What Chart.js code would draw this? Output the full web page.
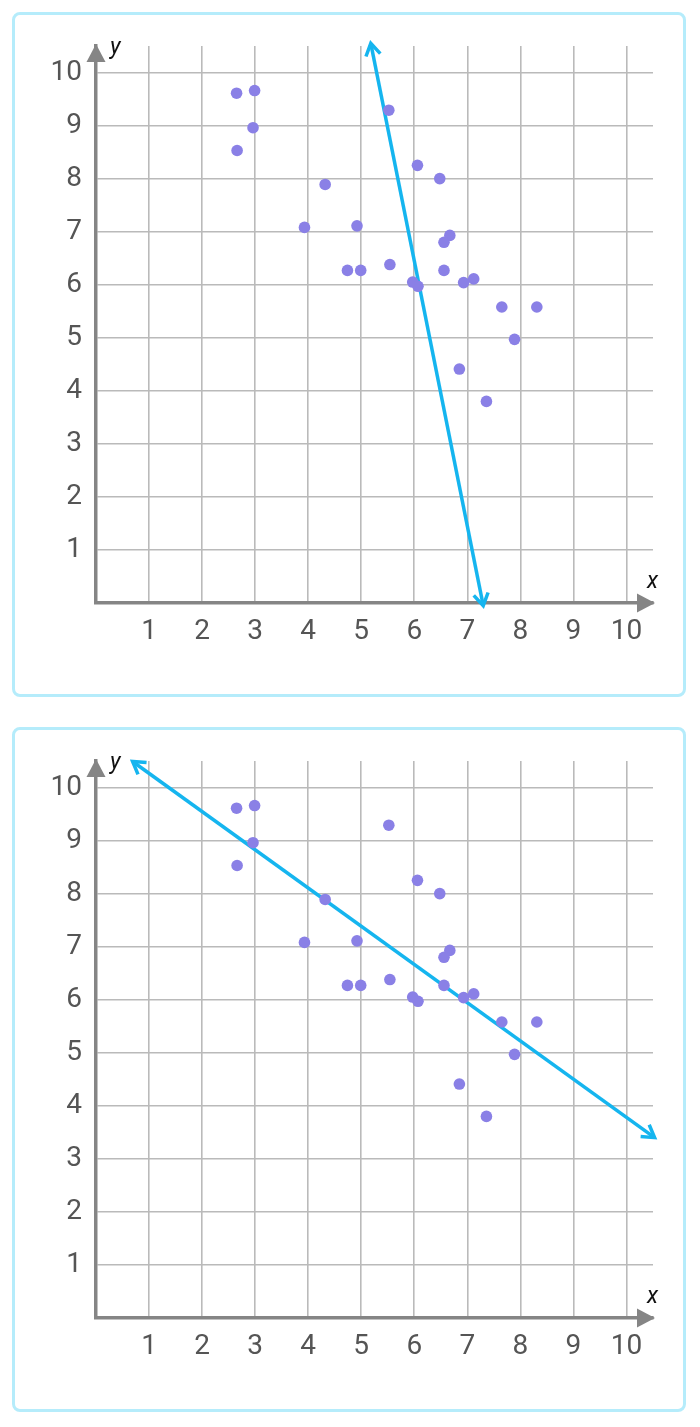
<!DOCTYPE html>
<html>
<head>
<meta charset="utf-8">
<script src="https://cdn.jsdelivr.net/npm/chart.js@4"></script>
<style>
  html, body { margin:0; padding:0; background:#fff; }
  body { width:700px; height:1427px; position:relative; overflow:hidden; }
  .panel { position:absolute; left:12px; width:674px; height:685px; box-sizing:border-box;
           border:3px solid #b5ecfb; border-radius:8px; background:#fff; }
  canvas { position:absolute; left:0; }
</style>
</head>
<body>
<div class="panel" style="top:12px"></div>
<div class="panel" style="top:727px"></div>
<canvas id="c1" width="700" height="712" style="top:0px"></canvas>
<canvas id="c2" width="700" height="712" style="top:715px"></canvas>
<script>
// ---- data ----
const pointX = [2.65, 2.99, 2.96, 2.66, 4.32, 3.93, 4.74, 5.52, 6.06, 6.48, 4.92, 6.67, 6.56,
                4.99, 5.54, 6.56, 5.97, 6.07, 6.93, 7.12, 7.65, 8.31, 7.89, 6.85, 7.36];
const pointY = [9.61, 9.66, 8.96, 8.53, 7.89, 7.08, 6.27, 9.29, 8.25, 8.00, 7.11, 6.93, 6.80,
                6.27, 6.38, 6.27, 6.05, 5.97, 6.04, 6.11, 5.58, 5.58, 4.97, 4.41, 3.80];
const line1X = [5.18, 7.30];
const line1Y = [10.55, -0.05];
const line2X = [0.69, 10.53];
const line2Y = [10.49, 3.40];
const xTicks = [1, 2, 3, 4, 5, 6, 7, 8, 9, 10];
const yTicks = [1, 2, 3, 4, 5, 6, 7, 8, 9, 10];
const axisMax = 10.5;

const POINT_COLOR = '#8a80e6';
const LINE_COLOR = '#15b5ef';
const GRID_COLOR = '#bababa';
const AXIS_COLOR = '#858585';
const TICK_COLOR = '#555555';

const decorPlugin = {
  id: 'decor',
  afterDatasetsDraw(chart) {
    const ctx = chart.ctx;
    const meta = chart.getDatasetMeta(1);
    const pts = meta.data;
    if (pts.length < 2) return;
    const drawHead = (tip, other) => {
      const ang = Math.atan2(tip.y - other.y, tip.x - other.x);
      const len = 14, spread = 0.55;
      ctx.beginPath();
      ctx.moveTo(tip.x - len * Math.cos(ang - spread), tip.y - len * Math.sin(ang - spread));
      ctx.lineTo(tip.x, tip.y);
      ctx.lineTo(tip.x - len * Math.cos(ang + spread), tip.y - len * Math.sin(ang + spread));
      ctx.stroke();
    };
    ctx.save();
    ctx.strokeStyle = LINE_COLOR;
    ctx.lineWidth = 3.5;
    ctx.lineJoin = 'miter';
    ctx.lineCap = 'butt';
    drawHead(pts[0], pts[1]);
    drawHead(pts[pts.length - 1], pts[pts.length - 2]);
    ctx.restore();
  },
  afterDraw(chart) {
    const ctx = chart.ctx;
    const area = chart.chartArea;
    const xs = chart.scales.x, ys = chart.scales.y;
    const x0 = xs.getPixelForValue(0);
    const y0 = ys.getPixelForValue(0);
    ctx.save();
    ctx.fillStyle = AXIS_COLOR;
    // y axis arrow
    const tipY = area.top - 2;
    ctx.beginPath();
    ctx.moveTo(x0, tipY);
    ctx.lineTo(x0 - 9.5, tipY + 18);
    ctx.lineTo(x0 + 9.5, tipY + 18);
    ctx.closePath();
    ctx.fill();
    // x axis arrow
    const tipX = area.right + 2;
    ctx.beginPath();
    ctx.moveTo(tipX, y0);
    ctx.lineTo(tipX - 18, y0 - 9.5);
    ctx.lineTo(tipX - 18, y0 + 9.5);
    ctx.closePath();
    ctx.fill();
    // axis names
    ctx.fillStyle = '#111111';
    ctx.font = 'italic 23px Roboto';
    ctx.textBaseline = 'alphabetic';
    ctx.textAlign = 'left';
    ctx.fillText('y', x0 + 14, area.top + 8);
    ctx.fillText('x', area.right - 6, y0 - 15);
    ctx.restore();
  }
};

function makeChart(id, lx, ly) {
  const pts = pointX.map((v, i) => ({ x: v, y: pointY[i] }));
  const linePts = lx.map((v, i) => ({ x: v, y: ly[i] }));
  return new Chart(document.getElementById(id), {
    type: 'scatter',
    data: {
      datasets: [
        { type: 'scatter', data: pts, backgroundColor: POINT_COLOR, borderWidth: 0,
          pointRadius: 5.8, pointHoverRadius: 5.8, order: 0, clip: false },
        { type: 'line', data: linePts, borderColor: LINE_COLOR, borderWidth: 3.5,
          pointRadius: 0, showLine: true, fill: false, order: 1, clip: false, tension: 0 }
      ]
    },
    options: {
      responsive: false,
      animation: false,
      events: [],
      layout: { padding: { left: 0, top: 46, right: 47, bottom: 49 } },
      plugins: { legend: { display: false }, tooltip: { enabled: false } },
      scales: {
        x: {
          type: 'linear', position: 'bottom', min: 0, max: axisMax,
          afterBuildTicks: (s) => { s.ticks = xTicks.map(v => ({ value: v })); },
          afterFit: (s) => { s.height = 60; },
          grid: { color: GRID_COLOR, lineWidth: 1.6, drawTicks: false },
          border: { display: true, color: AXIS_COLOR, width: 3.5 },
          ticks: { autoSkip: false, maxRotation: 0, padding: 12, color: TICK_COLOR,
                   font: { family: 'Roboto', size: 28 } }
        },
        y: {
          type: 'linear', position: 'left', min: 0, max: axisMax,
          afterBuildTicks: (s) => { s.ticks = yTicks.map(v => ({ value: v })); },
          afterFit: (s) => { s.width = 96; },
          grid: { color: GRID_COLOR, lineWidth: 1.6, drawTicks: false },
          border: { display: true, color: AXIS_COLOR, width: 3.5 },
          ticks: { autoSkip: false, padding: 14, color: TICK_COLOR,
                   font: { family: 'Roboto', size: 28 } }
        }
      }
    },
    plugins: [decorPlugin]
  });
}

makeChart('c1', line1X, line1Y);
makeChart('c2', line2X, line2Y);
</script>
</body>
</html>
